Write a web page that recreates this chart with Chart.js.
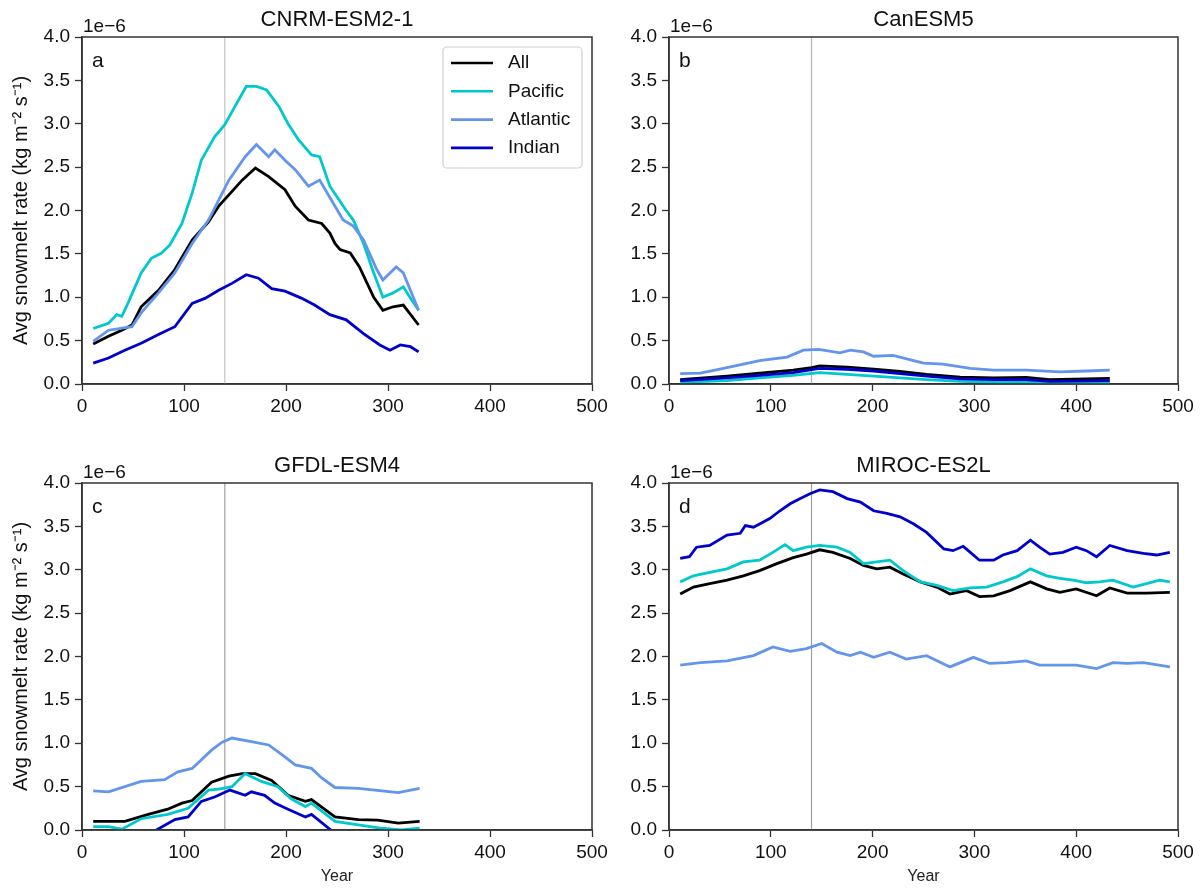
<!DOCTYPE html>
<html>
<head>
<meta charset="utf-8">
<script src="https://cdn.jsdelivr.net/npm/chart.js@4.4.1/dist/chart.umd.min.js"></script>
<style>
  body { margin: 0; background: #fff; width: 1203px; height: 889px; position: relative; overflow: hidden; }
  .panel { position: absolute; }
</style>
</head>
<body>
<div class="panel" style="left:0;top:0;width:640px;height:440px"><canvas id="cA"></canvas></div>
<div class="panel" style="left:601px;top:0;width:602px;height:440px"><canvas id="cB"></canvas></div>
<div class="panel" style="left:0;top:440px;width:640px;height:449px"><canvas id="cC"></canvas></div>
<div class="panel" style="left:601px;top:440px;width:602px;height:449px"><canvas id="cD"></canvas></div>
<script>
// values are in units of 1e-6 kg m-2 s-1, as [year, value]
const basins = ['All', 'Pacific', 'Atlantic', 'Indian'];
const basinColors = ['#000000', '#00c8cc', '#6495ed', '#0000cd'];
const historicalEnd = 140;
const yTicksMax = 4.0;

// === a: CNRM-ESM2-1 ===
const cnrmAll = [[11,0.46],[26,0.55],[39,0.62],[49,0.68],[58,0.89],[75,1.08],[91,1.32],[108,1.66],[124,1.87],[134,2.05],[144,2.18],[157,2.35],[170,2.49],[183,2.39],[199,2.24],[209,2.05],[222,1.89],[235,1.85],[243,1.74],[248,1.62],[253,1.55],[263,1.51],[272,1.35],[286,1.0],[295,0.85],[305,0.89],[315,0.91],[330,0.68]];
const cnrmPacific = [[11,0.64],[26,0.70],[34,0.80],[39,0.78],[45,0.93],[58,1.28],[68,1.45],[78,1.51],[86,1.60],[98,1.85],[108,2.2],[117,2.58],[130,2.85],[140,2.99],[150,3.2],[161,3.43],[171,3.43],[181,3.39],[193,3.2],[202,3.0],[212,2.82],[225,2.64],[233,2.62],[243,2.28],[259,2.0],[266,1.89],[276,1.62],[286,1.28],[295,1.0],[305,1.05],[315,1.12],[323,0.97],[330,0.85]];
const cnrmAtlantic = [[11,0.49],[26,0.62],[49,0.66],[58,0.82],[75,1.05],[91,1.28],[108,1.62],[124,1.89],[134,2.12],[144,2.35],[160,2.62],[171,2.76],[183,2.62],[189,2.70],[199,2.58],[209,2.47],[222,2.28],[233,2.35],[243,2.15],[256,1.89],[266,1.82],[276,1.66],[289,1.32],[295,1.2],[308,1.35],[315,1.28],[330,0.85]];
const cnrmIndian = [[11,0.24],[26,0.30],[42,0.39],[58,0.47],[75,0.57],[91,0.66],[108,0.93],[121,0.99],[134,1.08],[147,1.16],[161,1.26],[173,1.22],[186,1.10],[199,1.07],[215,0.99],[228,0.91],[243,0.80],[259,0.74],[276,0.58],[292,0.45],[302,0.39],[312,0.45],[322,0.43],[330,0.37]];

// === b: CanESM5 ===
const canAll = [[11,0.05],[57,0.09],[89,0.125],[122,0.16],[140,0.19],[148,0.21],[175,0.195],[201,0.17],[227,0.145],[253,0.11],[286,0.08],[319,0.07],[351,0.075],[374,0.05],[433,0.065]];
const canPacific = [[11,0.02],[57,0.04],[89,0.07],[122,0.1],[148,0.13],[175,0.11],[201,0.09],[227,0.07],[253,0.05],[286,0.03],[319,0.02],[351,0.02],[374,0.01],[433,0.01]];
const canAtlantic = [[11,0.12],[31,0.125],[57,0.19],[89,0.27],[116,0.31],[132,0.39],[147,0.40],[168,0.36],[178,0.39],[191,0.37],[201,0.32],[220,0.33],[250,0.24],[269,0.23],[296,0.18],[319,0.16],[351,0.16],[384,0.14],[410,0.15],[433,0.16]];
const canIndian = [[11,0.04],[57,0.07],[89,0.1],[122,0.13],[148,0.18],[175,0.17],[201,0.15],[227,0.12],[253,0.09],[286,0.06],[319,0.05],[351,0.05],[374,0.03],[433,0.04]];

// === c: GFDL-ESM4 ===
const gfdlAll = [[11,0.10],[42,0.10],[65,0.18],[84,0.24],[98,0.31],[108,0.34],[127,0.55],[144,0.62],[157,0.65],[170,0.65],[186,0.57],[202,0.40],[219,0.33],[225,0.35],[248,0.15],[271,0.12],[290,0.115],[310,0.08],[331,0.10]];
const gfdlPacific = [[11,0.04],[26,0.04],[39,0.01],[58,0.13],[84,0.18],[104,0.25],[124,0.46],[134,0.47],[147,0.5],[160,0.65],[176,0.56],[192,0.5],[205,0.36],[219,0.27],[225,0.31],[248,0.10],[271,0.06],[294,0.02],[313,0.0],[331,0.02]];
const gfdlAtlantic = [[11,0.45],[26,0.44],[58,0.56],[81,0.58],[94,0.67],[108,0.71],[127,0.92],[137,1.01],[147,1.06],[166,1.02],[183,0.98],[196,0.87],[209,0.75],[225,0.71],[235,0.60],[248,0.49],[271,0.48],[287,0.46],[310,0.43],[331,0.48]];
const gfdlIndian = [[73,0.0],[91,0.12],[104,0.15],[117,0.33],[130,0.38],[145,0.46],[160,0.40],[166,0.44],[179,0.40],[189,0.31],[202,0.24],[219,0.15],[225,0.18],[244,0.0]];

// === d: MIROC-ES2L ===
const mirocAll = [[11,2.72],[24,2.80],[40,2.84],[57,2.88],[73,2.93],[89,2.99],[106,3.07],[122,3.14],[135,3.18],[148,3.23],[161,3.20],[178,3.13],[191,3.05],[204,3.01],[217,3.03],[230,2.95],[247,2.86],[263,2.80],[276,2.72],[292,2.76],[305,2.69],[319,2.70],[335,2.76],[355,2.86],[371,2.78],[384,2.74],[400,2.78],[420,2.70],[433,2.79],[450,2.73],[469,2.73],[492,2.74]];
const mirocPacific = [[11,2.86],[24,2.93],[40,2.97],[57,3.01],[73,3.09],[89,3.11],[102,3.20],[114,3.29],[122,3.22],[135,3.26],[148,3.28],[165,3.26],[178,3.20],[191,3.07],[204,3.09],[217,3.11],[230,2.99],[247,2.86],[263,2.82],[279,2.76],[296,2.79],[312,2.80],[328,2.86],[342,2.92],[355,3.01],[371,2.93],[384,2.90],[397,2.88],[410,2.85],[423,2.86],[436,2.88],[456,2.80],[469,2.84],[482,2.88],[492,2.86]];
const mirocAtlantic = [[11,1.90],[31,1.93],[57,1.95],[83,2.01],[102,2.11],[119,2.06],[135,2.09],[150,2.15],[165,2.05],[178,2.01],[188,2.05],[201,1.99],[217,2.05],[233,1.97],[253,2.01],[276,1.88],[299,1.99],[315,1.92],[332,1.93],[351,1.95],[364,1.90],[384,1.90],[400,1.90],[420,1.86],[436,1.93],[450,1.92],[466,1.93],[492,1.88]];
const mirocIndian = [[11,3.13],[20,3.15],[27,3.26],[40,3.28],[57,3.40],[70,3.42],[75,3.51],[83,3.49],[99,3.59],[109,3.68],[119,3.76],[129,3.82],[139,3.88],[148,3.92],[161,3.90],[175,3.82],[188,3.78],[201,3.68],[214,3.65],[227,3.61],[240,3.53],[253,3.43],[270,3.24],[279,3.22],[289,3.27],[296,3.20],[305,3.11],[319,3.11],[328,3.17],[342,3.22],[355,3.34],[364,3.26],[374,3.18],[387,3.20],[400,3.26],[410,3.22],[420,3.15],[433,3.28],[450,3.22],[466,3.19],[479,3.17],[492,3.20]];

const FONT = "'Liberation Sans', Arial, sans-serif";
Chart.defaults.font.family = FONT;
Chart.defaults.color = '#111';

// titles, "1e-6", panel letter, frame and (panel a) legend
const panelDecor = {
    id: 'panelDecor',
    afterDatasetsDraw(chart, args, opts) {
        const { ctx, chartArea: a } = chart;
        ctx.save();
        ctx.strokeStyle = '#333';
        ctx.lineWidth = 1.5;
        ctx.strokeRect(a.left, a.top, a.right - a.left, a.bottom - a.top);

        ctx.fillStyle = '#111';
        ctx.textBaseline = 'alphabetic';
        ctx.font = '22px ' + FONT;
        ctx.textAlign = 'center';
        ctx.fillText(opts.title, (a.left + a.right) / 2, a.top - 11);
        ctx.font = '19px ' + FONT;
        ctx.textAlign = 'left';
        ctx.fillText('1e\u22126', a.left + 1, a.top - 5);
        ctx.font = '21px ' + FONT;
        ctx.fillText(opts.letter, a.left + 10, a.top + 30);

        if (opts.legend) {
            const bw = 139, bh = 121;
            const bx = a.right - 10 - bw, by = a.top + 10;
            ctx.beginPath();
            ctx.roundRect(bx, by, bw, bh, 4);
            ctx.fillStyle = 'rgba(255,255,255,0.85)';
            ctx.fill();
            ctx.strokeStyle = '#d0d0d0';
            ctx.lineWidth = 1.2;
            ctx.stroke();
            ctx.font = '19px ' + FONT;
            ctx.textBaseline = 'middle';
            chart.data.datasets.filter(d => d.label !== 'split').forEach((d, i) => {
                const y = by + 16 + i * 28.3;
                ctx.strokeStyle = d.borderColor;
                ctx.lineWidth = 2.6;
                ctx.beginPath();
                ctx.moveTo(bx + 8, y);
                ctx.lineTo(bx + 50, y);
                ctx.stroke();
                ctx.fillStyle = '#111';
                ctx.fillText(d.label, bx + 65, y);
            });
        }
        ctx.restore();
    }
};

function makePanel(id, p) {
    const datasets = p.series.map((s, i) => ({
        label: basins[i],
        data: s.map(([x, y]) => ({ x, y })),
        borderColor: basinColors[i],
        borderWidth: 2.8,
        pointRadius: 0,
        order: 10 - i
    }));
    datasets.push({
        label: 'split',
        data: [{ x: historicalEnd, y: 0 }, { x: historicalEnd, y: yTicksMax }],
        borderColor: p.splitColor,
        borderWidth: 1.2,
        pointRadius: 0,
        order: 20
    });

    new Chart(document.getElementById(id), {
        type: 'line',
        data: { datasets },
        plugins: [panelDecor],
        options: {
            responsive: true,
            maintainAspectRatio: false,
            animation: false,
            layout: { padding: { top: p.padTop, right: p.padRight, left: 0, bottom: 0 } },
            plugins: {
                legend: { display: false },
                tooltip: { enabled: false },
                panelDecor: { title: p.title, letter: p.letter, legend: p.legend }
            },
            scales: {
                x: {
                    type: 'linear',
                    min: 0,
                    max: 500,
                    ticks: { stepSize: 100, autoSkip: false, maxRotation: 0, padding: 4, font: { size: 19 }, color: '#111' },
                    grid: { drawOnChartArea: false, tickLength: 7, color: '#333', tickWidth: 1.3 },
                    border: { color: '#333', width: 1.5 },
                    title: { display: p.xTitle, text: 'Year', font: { size: 16 }, color: '#222', padding: { top: 0, bottom: 3 } },
                    afterFit: s => { s.height = p.xh; }
                },
                y: {
                    min: 0,
                    max: yTicksMax,
                    ticks: { stepSize: 0.5, padding: 5, font: { size: 19 }, color: '#111', callback: v => v.toFixed(1) },
                    grid: { drawOnChartArea: false, tickLength: 7, color: '#333', tickWidth: 1.3 },
                    border: { color: '#333', width: 1.5 },
                    title: { display: p.yTitle, text: 'Avg snowmelt rate (kg m\u207B\u00B2 s\u207B\u00B9)', font: { size: 20 }, color: '#111', padding: { top: 9, bottom: 0 } },
                    afterFit: s => { s.width = p.yw; }
                }
            }
        }
    });
}

makePanel('cA', { title: 'CNRM-ESM2-1', letter: 'a', legend: true, series: [cnrmAll, cnrmPacific, cnrmAtlantic, cnrmIndian],
    splitColor: '#c4c4c4', padTop: 37, padRight: 48, yw: 82, xh: 56, xTitle: false, yTitle: true });
makePanel('cB', { title: 'CanESM5', letter: 'b', legend: false, series: [canAll, canPacific, canAtlantic, canIndian],
    splitColor: '#b4b4b4', padTop: 37, padRight: 25, yw: 68, xh: 56, xTitle: false, yTitle: false });
makePanel('cC', { title: 'GFDL-ESM4', letter: 'c', legend: false, series: [gfdlAll, gfdlPacific, gfdlAtlantic, gfdlIndian],
    splitColor: '#a0a0a0', padTop: 43, padRight: 48, yw: 82, xh: 59, xTitle: true, yTitle: true });
makePanel('cD', { title: 'MIROC-ES2L', letter: 'd', legend: false, series: [mirocAll, mirocPacific, mirocAtlantic, mirocIndian],
    splitColor: '#a0a0a0', padTop: 43, padRight: 25, yw: 68, xh: 59, xTitle: true, yTitle: false });
</script>
</body>
</html>
